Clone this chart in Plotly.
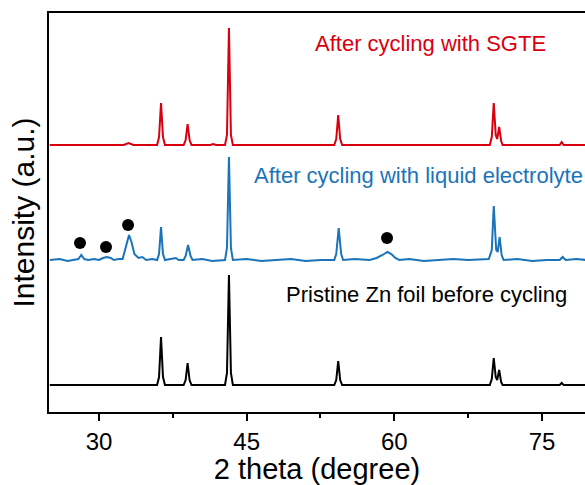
import plotly.graph_objects as go

# ---- data (2 theta in degrees, intensity in arbitrary units above each baseline) ----
red_x = [25, 29.0, 32.5, 33.0, 33.5, 35.9, 36.1, 36.3, 36.5, 36.7, 38.6, 38.8, 39.0, 39.2, 39.4,
         41.3, 41.6, 41.9, 42.8, 43.0, 43.2, 43.4, 43.6, 53.9, 54.1, 54.3, 54.5, 54.7,
         69.7, 69.9, 70.1, 70.3, 70.45, 70.65, 70.85, 71.0, 76.8, 77.0, 77.2, 79.5]
red_y = [0, 0, 0, 2, 0, 0, 8, 42, 8, 0, 0, 5, 21, 5, 0,
         0, 1, 0, 0, 10, 117, 10, 0, 0, 6, 30, 6, 0,
         0, 8, 42, 10, 6, 18, 4, 0, 0, 3, 0, 0]

blue_x = [25, 26.0, 26.8, 27.5, 27.9, 28.2, 28.5, 28.9, 29.5, 30.0, 30.4, 30.8, 31.2, 31.5, 32.0,
          32.4, 32.8, 33.05, 33.3, 33.6, 34.0, 34.4, 34.8, 35.4, 35.9, 36.1, 36.3, 36.5, 36.7,
          37.4, 37.8, 38.1, 38.6, 38.8, 39.05, 39.3, 39.5, 40.5, 41.5, 42.8, 43.0, 43.2, 43.4, 43.6,
          45.0, 46.5, 48.0, 49.5, 51.0, 52.5, 53.9, 54.1, 54.35, 54.6, 54.8, 56.0, 57.5, 58.2,
          58.8, 59.3, 59.7, 60.1, 60.5, 61.5, 63.0, 64.5, 66.0, 67.5, 69.0, 69.6, 69.9, 70.1,
          70.35, 70.5, 70.7, 70.9, 71.1, 72.5, 74.0, 75.5, 76.8, 77.1, 77.4, 78.5, 79.5]
blue_y = [0, 1, -1, 0, 1, 5, 1, 0, 1, 0, 2, 3, 2, 0, 1,
          1, 15, 25, 18, 6, 2, 3, 0, 1, 0, 6, 33, 6, 0,
          1, 2, 0, 0, 4, 15, 4, 0, 1, -1, 0, 12, 103, 12, 0,
          1, -1, 0, 1, -1, 0, 0, 6, 32, 6, 0, 1, 0, 2,
          5, 8, 6, 2, 0, 1, -1, 0, 1, 0, 1, 1, 10, 54,
          10, 8, 23, 5, 0, 1, -1, 0, 0, 3, 0, 1, 0]

black_x = [25, 35.9, 36.1, 36.3, 36.5, 36.7, 38.6, 38.8, 39.0, 39.2, 39.4, 42.8, 43.0, 43.2, 43.4, 43.6,
           53.9, 54.1, 54.3, 54.5, 54.7, 69.7, 69.9, 70.1, 70.3, 70.45, 70.65, 70.85, 71.0,
           76.8, 77.0, 77.2, 79.5]
black_y = [0, 0, 8, 48, 8, 0, 0, 5, 22, 5, 0, 0, 12, 110, 12, 0,
           0, 5, 24, 5, 0, 0, 6, 27, 8, 5, 15, 3, 0,
           0, 2, 0, 0]

dot_x = [28.07, 30.71, 32.95, 59.26]
dot_y = [17, 13, 35, 22]

labels = ["After cycling with SGTE", "After cycling with liquid electrolyte", "Pristine Zn foil before cycling"]
label_x = [51.74, 45.54, 48.79]
label_y = [102, 85, 91]

x_ticks = [30, 45, 60, 75]

# ---- styling / stacking ----
offsets = [267, 152, 27]
colors = ["#d8000f", "#1b74b9", "#000000"]
FONT = "Liberation Sans, Arial, sans-serif"

fig = go.Figure()
series = [(red_x, red_y), (blue_x, blue_y), (black_x, black_y)]
for (xs, ys), off, col in zip(series, offsets, colors):
    fig.add_trace(go.Scatter(x=xs, y=[v + off for v in ys], mode="lines",
                             line=dict(color=col, width=2), showlegend=False, hoverinfo="skip"))

fig.add_trace(go.Scatter(x=dot_x, y=[v + offsets[1] for v in dot_y], mode="markers",
                         marker=dict(color="black", size=12), showlegend=False, hoverinfo="skip"))

for txt, lx, ly, off, col in zip(labels, label_x, label_y, offsets, colors):
    fig.add_annotation(x=lx, y=ly + off, text=txt, showarrow=False, xanchor="left", yanchor="middle",
                       font=dict(family=FONT, size=22, color=col))

fig.update_layout(
    width=585, height=485,
    margin=dict(l=49, r=0, t=13, b=73),
    paper_bgcolor="white", plot_bgcolor="white",
    font=dict(family=FONT, color="black"),
)
fig.update_xaxes(range=[24.92, 79.37], tickvals=x_ticks, ticks="outside", ticklen=7, tickwidth=2,
                 tickcolor="black", showline=True, linecolor="black", linewidth=2, mirror=True,
                 showgrid=False, zeroline=False, tickfont=dict(size=24, family=FONT),
                 minor=dict(tickvals=[37.5, 52.5, 67.5], ticks="outside", ticklen=4, tickwidth=2, tickcolor="black"),
                 title=dict(text="2 theta (degree)", font=dict(size=29, family=FONT), standoff=0))
fig.update_yaxes(range=[0, 399], showticklabels=False, ticks="", showline=True, linecolor="black",
                 linewidth=2, mirror=False, showgrid=False, zeroline=False,
                 title=dict(text="Intensity (a.u.)", font=dict(size=30, family=FONT), standoff=4))

fig.write_html("out.html")
